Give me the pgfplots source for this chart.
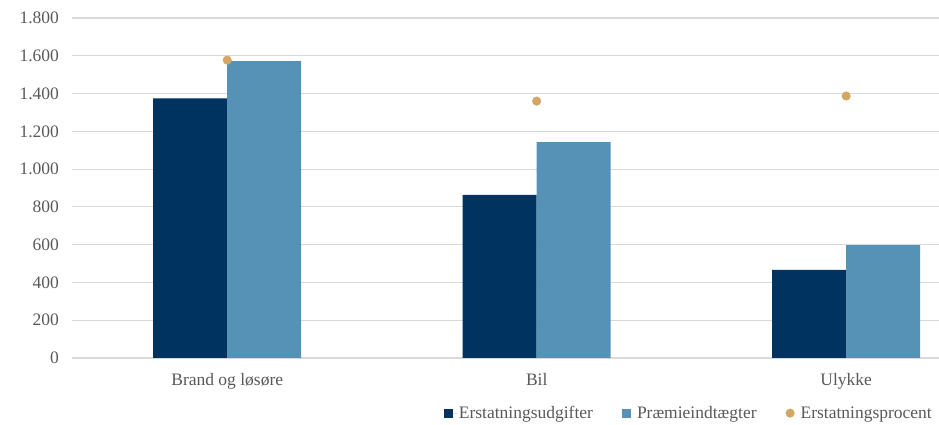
\documentclass[border=0pt]{standalone}
\usepackage{fontspec}
\setmainfont{Liberation Serif}
\usepackage{pgfplots}
\pgfplotsset{compat=1.18}
\definecolor{navy}{HTML}{00335F}
\definecolor{steel}{HTML}{5592B6}
\definecolor{gold}{HTML}{D3A763}
\definecolor{txt}{HTML}{595959}
\definecolor{grd}{HTML}{D9D9D9}
\begin{document}
\begin{tikzpicture}
\path[use as bounding box] (-72.5pt,-67pt) rectangle (866.5pt,358pt);
\begin{axis}[
  scale only axis,
  width=866.5pt, height=340pt,
  xmin=-0.5, xmax=2.3,
  ymin=0, ymax=1800,
  ytick={0,200,...,1800},
  xtick={0,1,2},
  xticklabels={Brand og løsøre, Bil, Ulykke},
  axis line style={draw=none},
  major tick length=0pt,
  ymajorgrids,
  grid style={grd, line width=1.2pt},
  tick label style={font=\fontsize{17.5}{20}\selectfont, text=txt},
  yticklabel style={xshift=-10pt},
  xticklabel style={yshift=-12pt},
  /pgf/number format/.cd, 1000 sep={.}, assume math mode=true,
  /pgfplots/.cd,
  clip=false,
  legend columns=3,
  legend style={at={(1,0)}, anchor=north east, xshift=-5pt, yshift=-46pt,
    draw=none, fill=none, font=\fontsize{17.5}{20}\selectfont, text=txt,
    /tikz/every even column/.append style={column sep=27pt},
    inner sep=0pt},
]
\addplot[ybar, bar width=74pt, bar shift=-37pt, fill=navy, draw=none,
  legend image code/.code={\path[draw=none] (0pt,0pt) -- (13pt,0pt);\fill[navy] (0pt,-4.5pt) rectangle (9pt,4.5pt);}]
  coordinates {(0,1375) (1,863) (2,466)};
\addlegendentry{Erstatningsudgifter}
\addplot[ybar, bar width=74pt, bar shift=37pt, fill=steel, draw=none,
  legend image code/.code={\path[draw=none] (0pt,0pt) -- (13pt,0pt);\fill[steel] (0pt,-4.5pt) rectangle (9pt,4.5pt);}]
  coordinates {(0,1572) (1,1143) (2,598)};
\addlegendentry{Præmieindtægter}
\addplot[only marks, mark=*, mark size=4.3pt, color=gold,
  legend image code/.code={\path[draw=none] (0pt,0pt) -- (13pt,0pt);\fill[gold] (4.5pt,0pt) circle (4.3pt);}]
  coordinates {(0,1577) (1,1360) (2,1387)};
\addlegendentry{Erstatningsprocent}
\end{axis}
\end{tikzpicture}
\end{document}
